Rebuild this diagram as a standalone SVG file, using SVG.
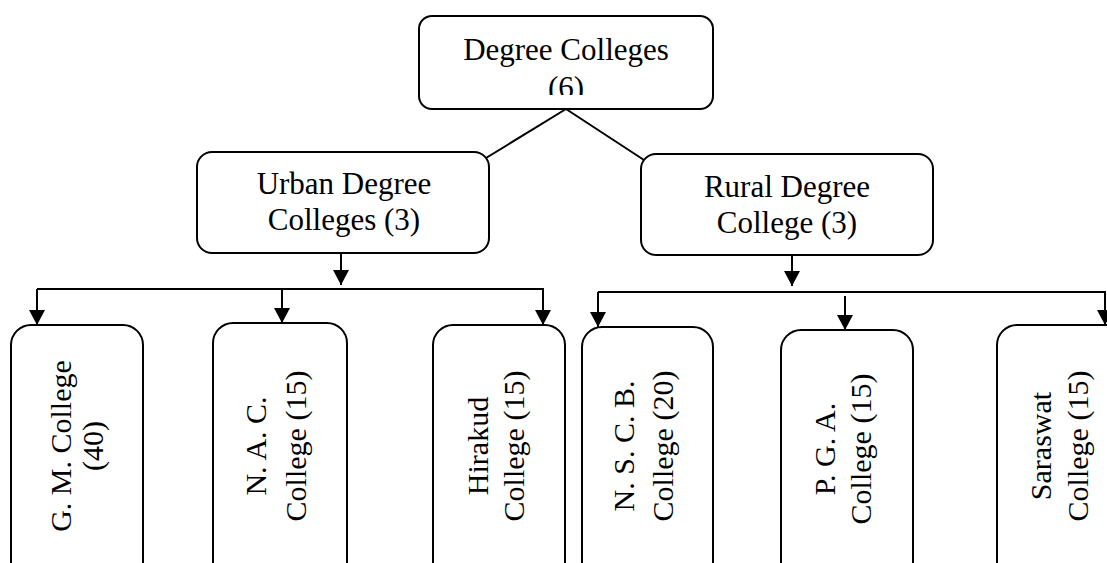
<svg xmlns="http://www.w3.org/2000/svg" width="1107" height="563" viewBox="0 0 1107 563">
<style>
.box{fill:#fff;stroke:#000;stroke-width:2}
.t{font-family:"Liberation Serif","Times New Roman",serif;font-size:31px;fill:#000;text-anchor:middle}
.v{font-family:"Liberation Serif","Times New Roman",serif;font-size:30px;fill:#000;text-anchor:middle}
.ln{fill:none;stroke:#000;stroke-width:2}
</style>
<defs>
<marker id="ah" viewBox="0 0 15 16" refX="15" refY="8" markerWidth="15" markerHeight="16" markerUnits="userSpaceOnUse" orient="auto">
<path d="M0,0 L15,8 L0,16 Z" fill="#000"/>
</marker>
<clipPath id="clipTop"><rect x="419" y="16" width="294" height="79"/></clipPath>
</defs>
<rect width="1107" height="563" fill="#fff"/>
<g id="connectors">
<path class="ln" d="M566,109 L486,158"/>
<path class="ln" d="M566,109 L644,160"/>
<path class="ln" d="M341,253 L341,285" marker-end="url(#ah)"/>
<path class="ln" d="M37,289 L543,289 L543,325" marker-end="url(#ah)"/>
<path class="ln" d="M282,289 L282,323" marker-end="url(#ah)"/>
<path class="ln" d="M37,289 L37,325" marker-end="url(#ah)"/>
<path class="ln" d="M792,255 L792,286" marker-end="url(#ah)"/>
<path class="ln" d="M598,292 L1105,292 L1105,325" marker-end="url(#ah)"/>
<path class="ln" d="M598,292 L598,327" marker-end="url(#ah)"/>
<path class="ln" d="M845,296 L845,330" marker-end="url(#ah)"/>
</g>
<g id="degree-colleges">
<rect class="box" x="419" y="16" width="294" height="93" rx="13"/>
<g clip-path="url(#clipTop)">
<text class="t" x="566" y="60">Degree Colleges</text>
<text class="t" x="566" y="98">(6)</text>
</g>
</g>
<g id="urban">
<rect class="box" x="197" y="152" width="292" height="101" rx="15"/>
<text class="t" x="344" y="194">Urban Degree</text>
<text class="t" x="344" y="230">Colleges (3)</text>
</g>
<g id="rural">
<rect class="box" x="641" y="154" width="292" height="101" rx="15"/>
<text class="t" x="787" y="197">Rural Degree</text>
<text class="t" x="787" y="233">College (3)</text>
</g>
<g id="gm">
<rect class="box" x="11" y="325" width="132" height="280" rx="20"/>
<g transform="translate(77,446) rotate(-90)">
<text class="v" x="0" y="-6">G. M. College</text>
<text class="v" x="0" y="26">(40)</text>
</g>
</g>
<g id="nac">
<rect class="box" x="213" y="323" width="134" height="280" rx="20"/>
<g transform="translate(280,446) rotate(-90)">
<text class="v" x="0" y="-14">N. A. C.</text>
<text class="v" x="0" y="26">College (15)</text>
</g>
</g>
<g id="hirakud">
<rect class="box" x="433" y="325" width="132" height="280" rx="20"/>
<g transform="translate(499,446) rotate(-90)">
<text class="v" x="0" y="-11">Hirakud</text>
<text class="v" x="0" y="25">College (15)</text>
</g>
</g>
<g id="nscb">
<rect class="box" x="582" y="327" width="131" height="280" rx="20"/>
<g transform="translate(647,446) rotate(-90)">
<text class="v" x="0" y="-13">N. S. C. B.</text>
<text class="v" x="0" y="26">College (20)</text>
</g>
</g>
<g id="pga">
<rect class="box" x="781" y="330" width="132" height="280" rx="20"/>
<g transform="translate(847,449) rotate(-90)">
<text class="v" x="0" y="-12">P. G. A.</text>
<text class="v" x="0" y="24">College (15)</text>
</g>
</g>
<g id="saraswat">
<rect class="box" x="997" y="325" width="132" height="280" rx="20"/>
<g transform="translate(1063,446) rotate(-90)">
<text class="v" x="0" y="-12">Saraswat</text>
<text class="v" x="0" y="25">College (15)</text>
</g>
</g>
</svg>
